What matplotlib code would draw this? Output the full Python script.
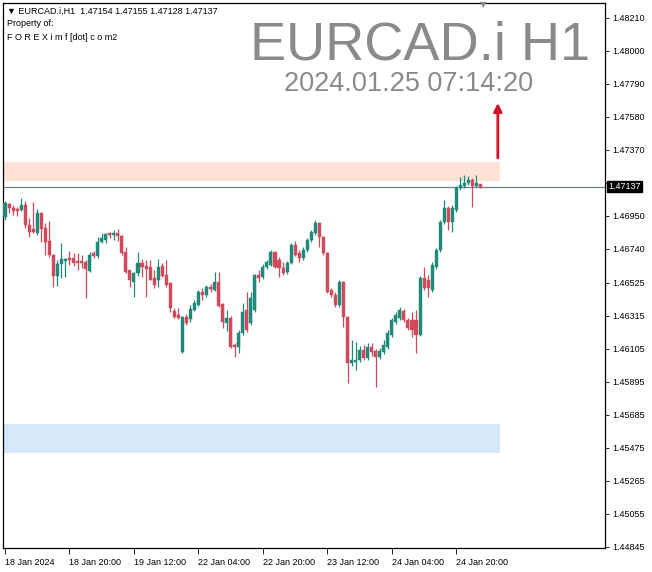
import matplotlib.pyplot as plt
from matplotlib.patches import Rectangle
import matplotlib.transforms as mtransforms

plt.rcParams['font.family'] = ['Liberation Sans', 'DejaVu Sans']

# hourly EURCAD.i bars
opens = [1.46944, 1.47026, 1.47001, 1.46995, 1.46988, 1.47020, 1.46893, 1.46867, 1.46842, 1.46969,
         1.46874, 1.46791, 1.46702, 1.46568, 1.46645, 1.46664, 1.46683, 1.46683, 1.46664, 1.46664,
         1.46657, 1.46600, 1.46715, 1.46696, 1.46785, 1.46797, 1.46842, 1.46829, 1.46842, 1.46823,
         1.46721, 1.46606, 1.46530, 1.46587, 1.46651, 1.46632, 1.46626, 1.46556, 1.46543, 1.46632,
         1.46575, 1.46524, 1.46345, 1.46320, 1.46085, 1.46307, 1.46295, 1.46352, 1.46384, 1.46466,
         1.46447, 1.46498, 1.46479, 1.46530, 1.46390, 1.46269, 1.46301, 1.46129, 1.46116, 1.46205,
         1.46352, 1.46269, 1.46352, 1.46575, 1.46562, 1.46626, 1.46638, 1.46721, 1.46670, 1.46619,
         1.46594, 1.46651, 1.46766, 1.46715, 1.46683, 1.46734, 1.46797, 1.46842, 1.46906, 1.46816,
         1.46715, 1.46479, 1.46447, 1.46384, 1.46530, 1.46307, 1.46015, 1.46021, 1.46034, 1.46097,
         1.46046, 1.46116, 1.46091, 1.46053, 1.46085, 1.46116, 1.46193, 1.46275, 1.46301, 1.46345,
         1.46288, 1.46288, 1.46288, 1.46193, 1.46556, 1.46543, 1.46479, 1.46626, 1.46734, 1.46912,
         1.47001, 1.46912, 1.46988, 1.47128, 1.47141, 1.47160, 1.47179, 1.47141, 1.47154]
highs = [1.47046, 1.47033, 1.47020, 1.47007, 1.47065, 1.47046, 1.46937, 1.47039, 1.46995, 1.46976,
         1.46906, 1.46918, 1.46708, 1.46670, 1.46778, 1.46683, 1.46727, 1.46715, 1.46715, 1.46702,
         1.46670, 1.46721, 1.46727, 1.46816, 1.46842, 1.46842, 1.46848, 1.46861, 1.46867, 1.46829,
         1.46753, 1.46606, 1.46594, 1.46721, 1.46676, 1.46670, 1.46670, 1.46606, 1.46676, 1.46651,
         1.46670, 1.46530, 1.46365, 1.46365, 1.46314, 1.46326, 1.46384, 1.46415, 1.46479, 1.46492,
         1.46511, 1.46517, 1.46594, 1.46594, 1.46396, 1.46352, 1.46314, 1.46142, 1.46225, 1.46396,
         1.46466, 1.46466, 1.46581, 1.46606, 1.46645, 1.46670, 1.46734, 1.46727, 1.46689, 1.46657,
         1.46664, 1.46778, 1.46791, 1.46734, 1.46753, 1.46810, 1.46861, 1.46925, 1.46912, 1.46823,
         1.46721, 1.46492, 1.46466, 1.46543, 1.46536, 1.46314, 1.46161, 1.46148, 1.46123, 1.46129,
         1.46142, 1.46142, 1.46104, 1.46110, 1.46161, 1.46225, 1.46301, 1.46339, 1.46371, 1.46358,
         1.46301, 1.46339, 1.46352, 1.46568, 1.46626, 1.46575, 1.46657, 1.46746, 1.46925, 1.47052,
         1.47014, 1.47020, 1.47141, 1.47198, 1.47211, 1.47205, 1.47192, 1.47211, 1.47155]
lows = [1.46925, 1.46969, 1.46956, 1.46950, 1.46982, 1.46874, 1.46816, 1.46842, 1.46829, 1.46785,
        1.46702, 1.46689, 1.46498, 1.46505, 1.46556, 1.46562, 1.46638, 1.46632, 1.46606, 1.46619,
        1.46428, 1.46594, 1.46683, 1.46683, 1.46778, 1.46778, 1.46810, 1.46797, 1.46791, 1.46702,
        1.46587, 1.46498, 1.46435, 1.46568, 1.46562, 1.46435, 1.46543, 1.46492, 1.46498, 1.46562,
        1.46498, 1.46339, 1.46301, 1.46295, 1.46078, 1.46256, 1.46275, 1.46345, 1.46377, 1.46415,
        1.46435, 1.46466, 1.46473, 1.46371, 1.46237, 1.46218, 1.46110, 1.46053, 1.46078, 1.46193,
        1.46212, 1.46256, 1.46339, 1.46530, 1.46549, 1.46613, 1.46632, 1.46619, 1.46562, 1.46575,
        1.46581, 1.46645, 1.46696, 1.46657, 1.46670, 1.46721, 1.46785, 1.46829, 1.46753, 1.46702,
        1.46460, 1.46435, 1.46371, 1.46371, 1.46244, 1.45887, 1.45995, 1.45970, 1.46021, 1.46034,
        1.46034, 1.46059, 1.45862, 1.46040, 1.46072, 1.46104, 1.46180, 1.46263, 1.46288, 1.46275,
        1.46225, 1.46180, 1.46078, 1.46186, 1.46479, 1.46435, 1.46466, 1.46613, 1.46721, 1.46899,
        1.46861, 1.46848, 1.46976, 1.47116, 1.47128, 1.47147, 1.47007, 1.47135, 1.47128]
closes = [1.47033, 1.47001, 1.46982, 1.46982, 1.47020, 1.46893, 1.46848, 1.46848, 1.46969, 1.46867,
          1.46785, 1.46702, 1.46568, 1.46645, 1.46676, 1.46676, 1.46670, 1.46651, 1.46651, 1.46651,
          1.46613, 1.46702, 1.46696, 1.46785, 1.46810, 1.46836, 1.46829, 1.46842, 1.46823, 1.46715,
          1.46594, 1.46543, 1.46587, 1.46651, 1.46626, 1.46613, 1.46543, 1.46511, 1.46626, 1.46568,
          1.46511, 1.46365, 1.46307, 1.46301, 1.46307, 1.46269, 1.46358, 1.46396, 1.46466, 1.46447,
          1.46498, 1.46486, 1.46530, 1.46377, 1.46275, 1.46301, 1.46116, 1.46116, 1.46205, 1.46339,
          1.46225, 1.46428, 1.46575, 1.46556, 1.46626, 1.46657, 1.46721, 1.46626, 1.46619, 1.46587,
          1.46651, 1.46766, 1.46702, 1.46683, 1.46734, 1.46797, 1.46848, 1.46906, 1.46816, 1.46715,
          1.46466, 1.46447, 1.46384, 1.46530, 1.46307, 1.46015, 1.46034, 1.46034, 1.46097, 1.46046,
          1.46116, 1.46085, 1.46053, 1.46091, 1.46129, 1.46205, 1.46288, 1.46320, 1.46352, 1.46288,
          1.46237, 1.46225, 1.46193, 1.46556, 1.46492, 1.46492, 1.46638, 1.46734, 1.46912, 1.47001,
          1.46912, 1.47001, 1.47128, 1.47147, 1.47160, 1.47179, 1.47141, 1.47160, 1.47137]

price_ticks = [1.48210, 1.48000, 1.47790, 1.47580, 1.47370, 1.47160, 1.46950, 1.46740, 1.46525,
               1.46315, 1.46105, 1.45895, 1.45685, 1.45475, 1.45265, 1.45055, 1.44845]
price_labels = ['1.48210', '1.48000', '1.47790', '1.47580', '1.47370', '', '1.46950', '1.46740',
                '1.46525', '1.46315', '1.46105', '1.45895', '1.45685', '1.45475', '1.45265',
                '1.45055', '1.44845']
time_ticks = [0, 16, 32, 48, 64, 80, 96, 112]
time_labels = ['18 Jan 2024', '18 Jan 20:00', '19 Jan 12:00', '22 Jan 04:00',
               '22 Jan 20:00', '23 Jan 12:00', '24 Jan 04:00', '24 Jan 20:00']

last_price = 1.47137
supply_zone = (1.47173, 1.47294)
demand_zone = (1.45442, 1.45626)
arrow_from, arrow_to = 1.47319, 1.47669

up_col = '#1f8a7a'
down_col = '#d1495b'

W, H = 652, 572
fig = plt.figure(figsize=(W / 100, H / 100), dpi=100)
fig.patch.set_facecolor('white')
ax = fig.add_axes([3 / W, (H - 548) / H, 602 / W, 545 / H])

for i in range(len(opens)):
    o, h, l, c = opens[i], highs[i], lows[i], closes[i]
    col = up_col if c >= o else down_col
    ax.vlines(i, l, h, color=col, lw=0.9, zorder=3)
    body = max(abs(c - o), 0.000025)
    ax.add_patch(Rectangle((i - 0.38, min(o, c)), 0.76, body,
                           facecolor=col, edgecolor=col, lw=0.3, zorder=4))

# zones
ax.add_patch(Rectangle((-0.5, supply_zone[0]), 123.3, supply_zone[1] - supply_zone[0],
                       facecolor='#fde2d5', edgecolor='none', zorder=1))
ax.add_patch(Rectangle((-0.5, demand_zone[0]), 123.3, demand_zone[1] - demand_zone[0],
                       facecolor='#d7e8f8', edgecolor='none', zorder=1))

ax.axhline(last_price, color='#6f7f86', lw=0.9, zorder=2)

ax.annotate('', xy=(122.3, arrow_to), xytext=(122.3, arrow_from),
            arrowprops=dict(arrowstyle='-|>', color='#d0142c', lw=2,
                            mutation_scale=12, shrinkA=0, shrinkB=0), zorder=5)

ax.set_xlim(-0.5, 148.9)
ax.set_ylim(1.44837, 1.48305)

ax.yaxis.tick_right()
ax.set_yticks(price_ticks)
ax.set_yticklabels(price_labels, fontsize=6.5)
ax.tick_params(axis='y', length=3, width=0.6, pad=2, colors='black')
ax.set_xticks(time_ticks)
ax.set_xticklabels(time_labels, fontsize=6.5)
ax.tick_params(axis='x', length=4, width=0.6, pad=3)
for lab in ax.get_xticklabels():
    lab.set_horizontalalignment('left')
for sp in ax.spines.values():
    sp.set_color('black')
    sp.set_linewidth(0.9)

# current price box
trans = mtransforms.blended_transform_factory(ax.transAxes, ax.transData)
ax.text(1.006, last_price, '1.47137', transform=trans, fontsize=6.5, color='white',
        va='center', ha='left', clip_on=False,
        bbox=dict(boxstyle='square,pad=0.15', facecolor='black', edgecolor='black'))

# header texts
fig.text(7 / W, 1 - 11 / H, '\u25bc EURCAD.i,H1  1.47154 1.47155 1.47128 1.47137',
         fontsize=6.5, va='center', ha='left', family=['Liberation Sans', 'DejaVu Sans'])
fig.text(7 / W, 1 - 24 / H, 'Property of:', fontsize=6.5, va='center', ha='left')
fig.text(7 / W, 1 - 37 / H, 'F O R E X i m f [dot] c o m2', fontsize=6.5, va='center', ha='left')

fig.text(590 / W, 1 - 60 / H, 'EURCAD.i H1', fontsize=39, color='#8a8a8a',
         ha='right', va='baseline')
fig.text(409 / W, 1 - 91 / H, '2024.01.25 07:14:20', fontsize=19.5, color='#8a8a8a',
         ha='center', va='baseline')

# small shift marker at the top
fig.text(483 / W, 1 - 5 / H, '\u25bc', fontsize=6, color='#8a8a8a', ha='center', va='center',
         family=['DejaVu Sans'])

fig.savefig('out.png', dpi=100, facecolor='white')
